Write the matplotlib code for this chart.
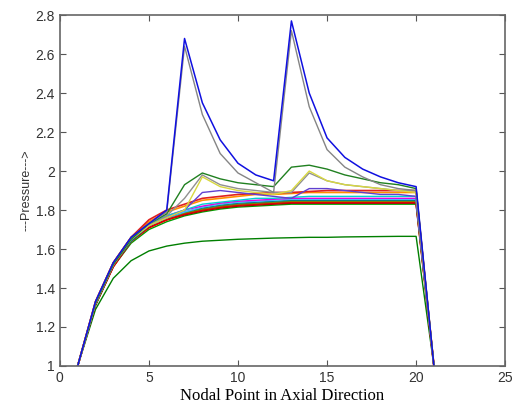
import matplotlib
matplotlib.use("Agg")
import matplotlib.pyplot as plt

nodes = list(range(1, 22))

blue_spike = [1.00, 1.33, 1.53, 1.66, 1.73, 1.80, 2.68, 2.35, 2.16, 2.04, 1.98, 1.95, 2.77, 2.40, 2.17, 2.07, 2.01, 1.97, 1.94, 1.92, 1.00]
gray_spike = [1.00, 1.33, 1.53, 1.66, 1.73, 1.79, 2.64, 2.29, 2.09, 1.99, 1.94, 1.89, 2.72, 2.33, 2.11, 2.02, 1.97, 1.93, 1.91, 1.90, 1.00]
green_bump = [1.00, 1.32, 1.52, 1.65, 1.73, 1.78, 1.93, 1.99, 1.96, 1.94, 1.93, 1.92, 2.02, 2.03, 2.01, 1.98, 1.96, 1.94, 1.93, 1.91, 1.00]
yellow_bump = [1.00, 1.32, 1.52, 1.65, 1.72, 1.76, 1.80, 1.97, 1.92, 1.90, 1.89, 1.88, 1.90, 2.00, 1.95, 1.93, 1.92, 1.91, 1.90, 1.89, 1.00]
gray_bump = [1.00, 1.32, 1.52, 1.65, 1.72, 1.77, 1.86, 1.98, 1.93, 1.91, 1.90, 1.89, 1.89, 1.99, 1.95, 1.93, 1.92, 1.91, 1.90, 1.90, 1.00]
purple_bump = [1.00, 1.32, 1.52, 1.65, 1.72, 1.76, 1.80, 1.89, 1.90, 1.89, 1.88, 1.87, 1.86, 1.91, 1.91, 1.90, 1.89, 1.88, 1.88, 1.87, 1.00]
red_high = [1.00, 1.33, 1.53, 1.66, 1.75, 1.80, 1.83, 1.86, 1.87, 1.88, 1.885, 1.89, 1.89, 1.895, 1.90, 1.90, 1.90, 1.90, 1.90, 1.90, 1.00]
orange_high = [1.00, 1.33, 1.53, 1.66, 1.74, 1.79, 1.82, 1.85, 1.86, 1.87, 1.88, 1.88, 1.885, 1.89, 1.89, 1.89, 1.89, 1.89, 1.89, 1.89, 1.00]
cyan_mid = [1.00, 1.32, 1.52, 1.65, 1.73, 1.77, 1.80, 1.83, 1.84, 1.85, 1.86, 1.86, 1.865, 1.87, 1.87, 1.87, 1.87, 1.87, 1.87, 1.87, 1.00]
magenta_mid = [1.00, 1.32, 1.52, 1.65, 1.73, 1.77, 1.80, 1.82, 1.835, 1.845, 1.85, 1.855, 1.86, 1.86, 1.86, 1.86, 1.86, 1.86, 1.86, 1.86, 1.00]
lightblue_mid = [1.00, 1.32, 1.52, 1.65, 1.72, 1.76, 1.79, 1.815, 1.83, 1.84, 1.845, 1.85, 1.855, 1.855, 1.855, 1.855, 1.855, 1.855, 1.855, 1.855, 1.00]
teal_mid = [1.00, 1.32, 1.52, 1.64, 1.72, 1.76, 1.79, 1.81, 1.825, 1.835, 1.84, 1.845, 1.85, 1.85, 1.85, 1.85, 1.85, 1.85, 1.85, 1.85, 1.00]
olive_mid = [1.00, 1.32, 1.52, 1.64, 1.72, 1.76, 1.785, 1.805, 1.82, 1.83, 1.835, 1.84, 1.845, 1.845, 1.845, 1.845, 1.845, 1.845, 1.845, 1.845, 1.00]
red_low = [1.00, 1.32, 1.51, 1.64, 1.71, 1.75, 1.78, 1.80, 1.815, 1.825, 1.83, 1.835, 1.84, 1.84, 1.84, 1.84, 1.84, 1.84, 1.84, 1.84, 1.00]
darkred_low = [1.00, 1.31, 1.51, 1.64, 1.71, 1.75, 1.775, 1.795, 1.81, 1.82, 1.825, 1.83, 1.835, 1.835, 1.835, 1.835, 1.835, 1.835, 1.835, 1.835, 1.00]
green_low = [1.00, 1.31, 1.51, 1.63, 1.70, 1.74, 1.77, 1.79, 1.805, 1.815, 1.82, 1.825, 1.83, 1.83, 1.83, 1.83, 1.83, 1.83, 1.83, 1.83, 1.00]
bottom_green = [1.00, 1.29, 1.45, 1.54, 1.59, 1.615, 1.63, 1.64, 1.645, 1.65, 1.653, 1.656, 1.658, 1.66, 1.66, 1.662, 1.663, 1.664, 1.665, 1.665, 1.00]

series = [
    (bottom_green, "#007f00", 1.0),
    (green_low, "#00a000", 1.0),
    (darkred_low, "#a00000", 1.0),
    (red_low, "#e00000", 1.4),
    (olive_mid, "#808000", 1.0),
    (teal_mid, "#008080", 1.0),
    (lightblue_mid, "#40c0ff", 1.0),
    (magenta_mid, "#e000e0", 1.0),
    (cyan_mid, "#00d0d0", 1.0),
    (orange_high, "#ff9000", 1.2),
    (red_high, "#e02020", 1.2),
    (purple_bump, "#6040d0", 1.0),
    (gray_bump, "#909090", 1.0),
    (yellow_bump, "#d8d840", 1.0),
    (green_bump, "#208020", 1.0),
    (gray_spike, "#858585", 1.0),
    (blue_spike, "#1010e0", 1.1),
]

fig = plt.figure(figsize=(5.16, 4.08), dpi=100)
ax = fig.add_axes([0.116, 0.103, 0.863, 0.860])
for vals, color, lw in series:
    ax.plot(nodes, vals, color=color, lw=lw)

ax.set_xlim(0, 25)
ax.set_ylim(1, 2.8)
ax.set_xticks([0, 5, 10, 15, 20, 25])
ax.set_yticks([1, 1.2, 1.4, 1.6, 1.8, 2, 2.2, 2.4, 2.6, 2.8])
ax.set_yticklabels(["1", "1.2", "1.4", "1.6", "1.8", "2", "2.2", "2.4", "2.6", "2.8"])
ax.tick_params(direction="in", top=True, right=True, length=4, color="#555555",
               labelsize=10, labelcolor="#333333")
for lbl in ax.get_xticklabels() + ax.get_yticklabels():
    lbl.set_family("Liberation Sans")
for s in ax.spines.values():
    s.set_color("#666666")
    s.set_linewidth(1.2)
ax.set_xlabel("Nodal Point in Axial Direction", family="Liberation Serif", fontsize=12, labelpad=2)
ax.set_ylabel("---Pressure--->", family="Liberation Sans", fontsize=9, color="#333333", labelpad=2)
fig.savefig("out.png", dpi=100)
